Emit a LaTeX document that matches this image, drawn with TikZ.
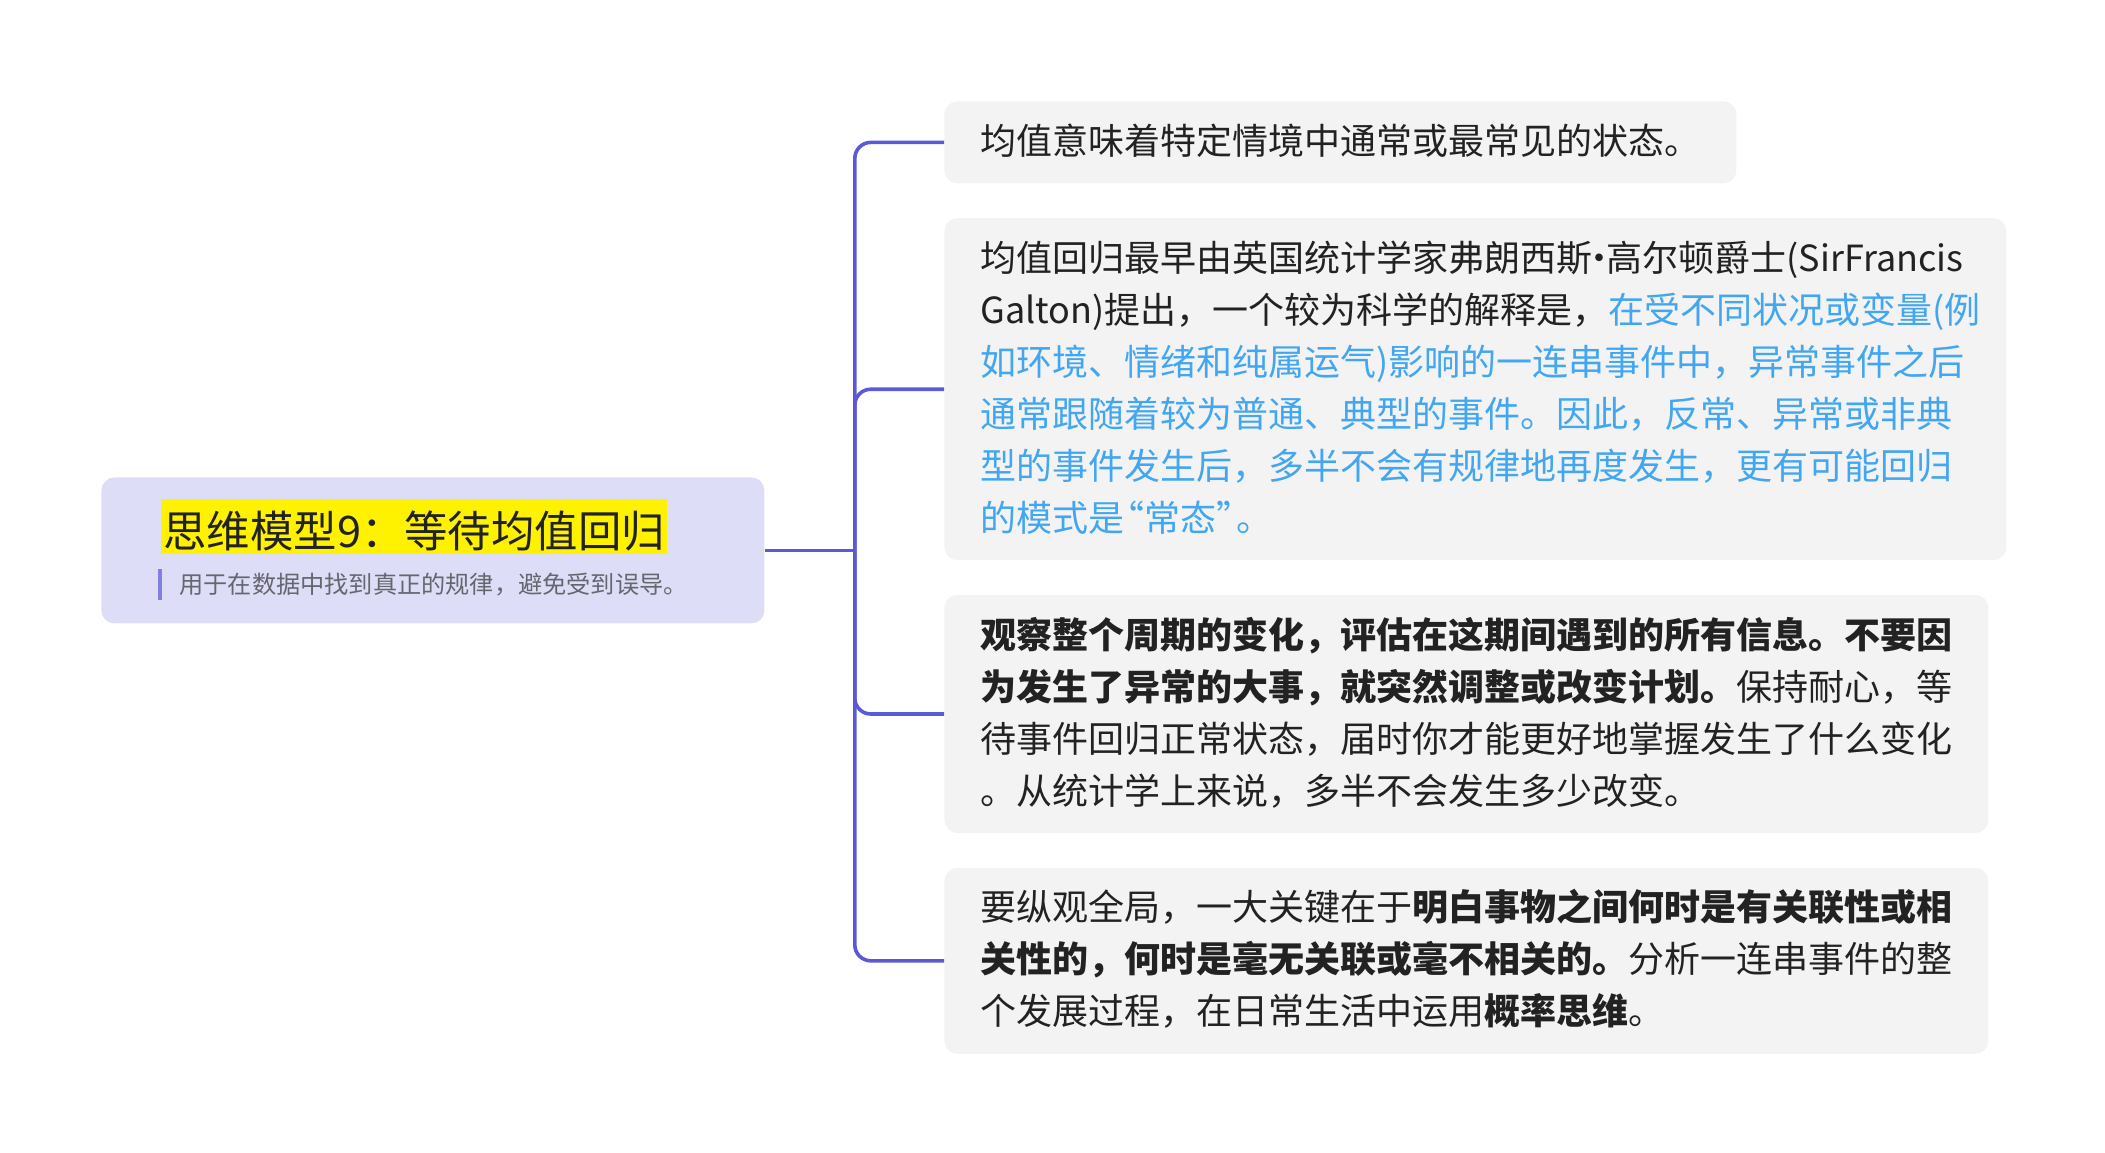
\documentclass[tikz,border=0pt]{standalone}
\usepackage{fontspec}
\usepackage{xcolor}
\usepackage{tikz}
\usetikzlibrary{positioning,calc}

\newfontfamily\cjkfont{Noto Sans CJK SC}
\definecolor{rootc}{HTML}{DDDDF7}
\definecolor{leafc}{HTML}{F3F3F3}
\definecolor{linkc}{HTML}{5A5AD6}
\definecolor{barc}{HTML}{8080E0}
\definecolor{bluec}{HTML}{42A6F0}
\definecolor{txtc}{HTML}{222222}
\definecolor{subc}{HTML}{66666F}
\newcommand\lnstrut{\rule[-7pt]{0pt}{26pt}}
\newcommand\mdot{\kern-.3em·\kern-.3em}
\newcommand\oquote{\kern-.45em“}
\newcommand\cquote{”\kern-.45em}

\begin{document}
\begin{tikzpicture}[
  x=1pt, y=1pt,
  node distance=17pt,
  root/.style={fill=rootc, rounded corners=6.5pt, minimum width=331.5pt, minimum height=73pt, inner sep=0pt},
  ttl/.style={fill=yellow, text=txtc, font=\cjkfont\fontsize{21.7pt}{26pt}\selectfont, inner xsep=1pt, inner ysep=0pt, text height=24pt, text depth=3.5pt},
  sub/.style={text=subc, font=\cjkfont\fontsize{12.1pt}{15pt}\selectfont, inner sep=0pt, text height=12pt, text depth=3pt},
  subbar/.style={draw=barc, line width=2pt},
  leaf/.style={fill=leafc, rounded corners=6.5pt, inner xsep=18pt, inner ysep=7.5pt, align=left, text=txtc, font=\cjkfont\fontsize{18pt}{26pt}\selectfont},
  link/.style={draw=linkc, line width=1.8pt, rounded corners=8pt}]
\useasboundingbox (0,0) rectangle (1052.5,-576);
% central topic
\node[root, anchor=north west] (root) at (50.5,-238.5) {};
\node[ttl, below right=11pt and 30pt of root.north west] (ttl) {思维模型9：等待均值回归};
\node[sub, below right=46pt and 39pt of root.north west] (sub) {用于在数据中找到真正的规律，避免受到误导。};
\draw[subbar] ([xshift=-9.75pt]sub.north west) -- ([xshift=-9.75pt]sub.south west);
% subtopics
\node[leaf, text width=360pt, anchor=north west] (b1) at (472,-50.5) {\lnstrut 均值意味着特定情境中通常或最常见的状态。\lnstrut};
\node[leaf, text width=495pt, below=17pt of b1.south west, anchor=north west] (b2) {\lnstrut 均值回归最早由英国统计学家弗朗西斯\mdot 高尔顿爵士(SirFrancis\\
Galton)提出，一个较为科学的解释是，{\color{bluec}在受不同状况或变量(例\\
如环境、情绪和纯属运气)影响的一连串事件中，异常事件之后\\
通常跟随着较为普通、典型的事件。因此，反常、异常或非典\\
型的事件发生后，多半不会有规律地再度发生，更有可能回归\\
的模式是\oquote 常态\cquote 。}\lnstrut};
\node[leaf, text width=486pt, below=17pt of b2.south west, anchor=north west] (b3) {\lnstrut\textbf{观察整个周期的变化，评估在这期间遇到的所有信息。不要因}\\
\textbf{为发生了异常的大事，就突然调整或改变计划。}保持耐心，等\\
待事件回归正常状态，届时你才能更好地掌握发生了什么变化\\
。从统计学上来说，多半不会发生多少改变。\lnstrut};
\node[leaf, text width=486pt, below=17pt of b3.south west, anchor=north west] (b4) {\lnstrut 要纵观全局，一大关键在于\textbf{明白事物之间何时是有关联性或相}\\
\textbf{关性的，何时是毫无关联或毫不相关的。}分析一连串事件的整\\
个发展过程，在日常生活中运用\textbf{概率思维}。\lnstrut};
% connectors
\coordinate (hub) at ($(root.east)+(45pt,0)$);
\draw[link] (root.east) -- (hub);
\foreach \b in {b1,b2,b3,b4}
  \draw[link] (hub) |- (\b.west);
\end{tikzpicture}
\end{document}
